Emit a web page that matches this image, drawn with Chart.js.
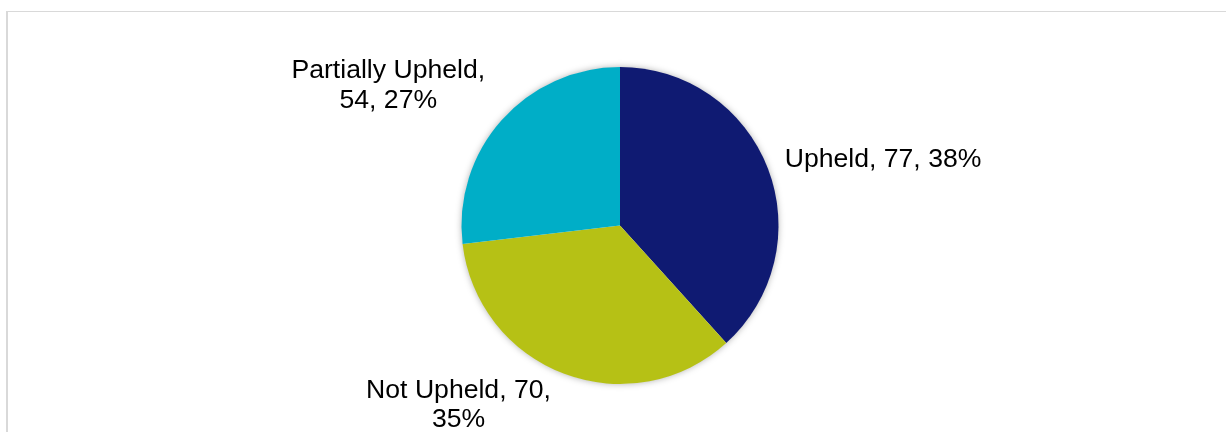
<!DOCTYPE html>
<html>
<head>
<meta charset="utf-8">
<script src="https://cdn.jsdelivr.net/npm/chart.js@4/dist/chart.umd.min.js"></script>
<style>
  html, body { margin: 0; padding: 0; background: #fff; }
  #wrap { position: relative; width: 1226px; height: 432px; overflow: hidden; }
  #frame { position: absolute; left: 6px; top: 11px; width: 1300px; height: 500px;
           border-left: 2px solid #d9d9d9; border-top: 1px solid #d9d9d9; }
  #myChart { position: absolute; left: 0; top: 0; }
</style>
</head>
<body>
<div id="wrap">
  <div id="frame"></div>
  <canvas id="myChart" width="1226" height="432"></canvas>
</div>
<script>
// Daten
const categories = ['Upheld', 'Not Upheld', 'Partially Upheld'];
const counts = [77, 70, 54];
const colors = ['#0f1a72', '#b6c115', '#00aec7'];

const total = counts.reduce((a, b) => a + b, 0);

// Texte umbrechen wie in Excel
function wrapText(ctx, text, maxWidth) {
  const words = text.split(' ');
  const lines = [];
  let line = '';
  words.forEach(w => {
    const test = line ? line + ' ' + w : w;
    if (ctx.measureText(test).width > maxWidth && line) {
      lines.push(line);
      line = w;
    } else {
      line = test;
    }
  });
  if (line) lines.push(line);
  return lines;
}

// Schatten hinter dem Kreis
const shadowPlugin = {
  id: 'pieShadow',
  beforeDatasetsDraw(chart) {
    const arc = chart.getDatasetMeta(0).data[0];
    if (!arc) return;
    const { x, y, outerRadius } = arc.getProps(['x', 'y', 'outerRadius'], true);
    const ctx = chart.ctx;
    ctx.save();
    ctx.shadowColor = 'rgba(0,0,0,0.35)';
    ctx.shadowBlur = 7;
    ctx.fillStyle = '#ffffff';
    ctx.beginPath();
    ctx.arc(x, y, outerRadius - 0.5, 0, Math.PI * 2);
    ctx.fill();
    ctx.restore();
  }
};

// Beschriftungen außerhalb der Segmente
const labelPlugin = {
  id: 'outsideLabels',
  afterDatasetsDraw(chart, args, opts) {
    const ctx = chart.ctx;
    const meta = chart.getDatasetMeta(0);
    ctx.save();
    ctx.font = '26.6px "Liberation Sans", Arial, sans-serif';
    ctx.fillStyle = '#000';
    ctx.textAlign = 'center';
    ctx.textBaseline = 'middle';
    const lh = 29.5;
    meta.data.forEach((arc, i) => {
      const p = arc.getProps(['x', 'y', 'startAngle', 'endAngle', 'outerRadius'], true);
      const mid = (p.startAngle + p.endAngle) / 2;
      const r = p.outerRadius + 18;
      const cos = Math.cos(mid), sin = Math.sin(mid);
      const px = p.x + cos * r, py = p.y + sin * r;
      const pct = Math.round(counts[i] / total * 100);
      const text = categories[i] + ', ' + counts[i] + ', ' + pct + '%';
      const lines = wrapText(ctx, text, 215);
      const w = Math.max(...lines.map(l => ctx.measureText(l).width));
      const h = lines.length * lh;
      const nudge = opts.nudge[i] || [0, 0];
      const left = (cos >= 0 ? px : px - w) + nudge[0];
      const cy = py + sin * h / 2 + nudge[1];
      lines.forEach((ln, j) => {
        ctx.fillText(ln, left + w / 2, cy - h / 2 + lh * (j + 0.5));
      });
    });
    ctx.restore();
  }
};

const config = {
  type: 'pie',
  data: {
    labels: categories,
    datasets: [{
      data: counts,
      backgroundColor: colors,
      borderWidth: 0,
      hoverOffset: 0,
      offset: 0
    }]
  },
  options: {
    responsive: false,
    animation: false,
    layout: { padding: { top: 67, bottom: 48, left: 14, right: 0 } },
    plugins: {
      legend: { display: false },
      tooltip: { enabled: false },
      outsideLabels: { nudge: [[0, 3], [-7, -13], [-3, -3]] }
    }
  },
  plugins: [shadowPlugin, labelPlugin]
};

new Chart(document.getElementById('myChart'), config);
</script>
</body>
</html>
